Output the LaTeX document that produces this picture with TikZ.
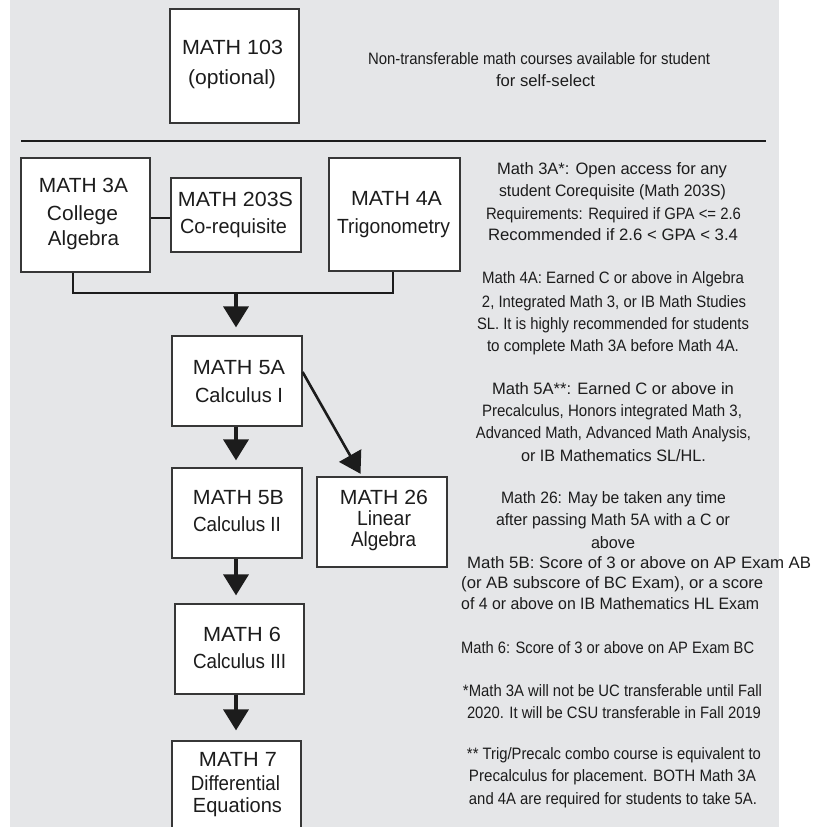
\documentclass[tikz,border=0pt]{standalone}
\usepackage{fontspec}
\setmainfont{Liberation Sans}
\usetikzlibrary{arrows.meta}
\newcommand\fw[2]{\resizebox{#1pt}{\height}{#2}}
\definecolor{bggray}{RGB}{229,230,232}
\definecolor{ink}{RGB}{28,28,28}
\definecolor{edge}{RGB}{55,55,55}
\tikzset{
  course/.style={draw=edge, line width=1.2pt, fill=white, inner sep=0pt},
  btxt/.style={anchor=base, inner sep=0pt, text=ink, font=\fontsize{20.5}{24}\selectfont},
  ntxt/.style={anchor=base, inner sep=0pt, text=ink, font=\fontsize{16.5}{20}\selectfont},
  nleft/.style={ntxt, anchor=base west},
  link/.style={draw=ink, line width=2.8pt, line join=miter},
  flow/.style={draw=ink, line width=3.5pt, -{Triangle[width=25pt,length=21pt]}},
  diag/.style={draw=ink, line width=2.6pt, -{Triangle[width=25pt,length=21pt]}},
}
\begin{document}
\begin{tikzpicture}[x=1pt,y=-1pt]
\useasboundingbox (0,0) rectangle (828,827);
\fill[bggray] (10,0) rectangle (779,827);

% separator
\draw[ink, line width=2pt] (21,141) -- (766,141);

% course boxes
\node[course, minimum width=129pt, minimum height=114pt] (m103) at (234.5,66) {};
\node[course, minimum width=129pt, minimum height=114pt] (m3a) at (85.5,215) {};
\node[course, minimum width=130pt, minimum height=74pt] (m203) at (236,215) {};
\node[course, minimum width=131pt, minimum height=113pt] (m4a) at (394.5,214.5) {};
\node[course, minimum width=130pt, minimum height=90pt] (m5a) at (237,381) {};
\node[course, minimum width=130pt, minimum height=90pt] (m5b) at (237,513) {};
\node[course, minimum width=130pt, minimum height=90pt] (m26) at (382,522) {};
\node[course, minimum width=129pt, minimum height=90pt] (m6) at (239.5,649) {};
\node[course, minimum width=129pt, minimum height=139pt] (m7) at (236.5,810.5) {};

% box texts
\node[btxt] (m103a) at (232.5,54.5) {\fw{101}{MATH 103}};
\node[btxt] (m103b) at (232,84.5) {\fw{88}{(optional)}};
\node[btxt] (m3aa) at (83.5,192.5) {\fw{89}{MATH 3A}};
\node[btxt] (m3ab) at (82.5,220.5) {\fw{71}{College}};
\node[btxt] (m3ac) at (83.5,245.5) {\fw{71}{Algebra}};
\node[btxt] (m203a) at (235.5,206.5) {\fw{115}{MATH 203S}};
\node[btxt] (m203b) at (233.5,233.5) {\fw{107}{Co-requisite}};
\node[btxt] (m4aa) at (396.5,205.5) {\fw{91}{MATH 4A}};
\node[btxt] (m4ab) at (393.5,233.5) {\fw{113}{Trigonometry}};
\node[btxt] (m5aa) at (239,374.5) {\fw{92}{MATH 5A}};
\node[btxt] (m5ab) at (239,402.5) {\fw{88}{Calculus I}};
\node[btxt] (m5ba) at (238.5,504.5) {\fw{91}{MATH 5B}};
\node[btxt] (m5bb) at (237,531.5) {\fw{88}{Calculus II}};
\node[btxt] (m26a) at (384,504) {\fw{88}{MATH 26}};
\node[btxt] (m26b) at (384,525) {\fw{54}{Linear}};
\node[btxt] (m26c) at (383.5,546) {\fw{65}{Algebra}};
\node[btxt] (m6a) at (242,641.5) {\fw{78}{MATH 6}};
\node[btxt] (m6b) at (239.5,668.5) {\fw{93}{Calculus III}};
\node[btxt] (m7a) at (238,766.5) {\fw{78}{MATH 7}};
\node[btxt] (m7b) at (235.5,790.5) {\fw{89}{Differential}};
\node[btxt] (m7c) at (237.5,812.5) {\fw{89}{Equations}};

% connectors
\coordinate (cy) at (160,218);
\draw[link] (m3a.east |- cy) -- (m203.west |- cy);
\coordinate (bl) at (73,293);
\coordinate (br) at (393,293);
\coordinate (bm) at (236,293);
\draw[link] (m3a.south -| bl) -- (bl) -- (br) -- (m4a.south -| br);
\draw[flow, shorten >=8pt] (bm) -- (m5a.north -| bm);
\draw[flow, shorten >=7pt] (m5a.south -| bm) -- (m5b.north -| bm);
\draw[flow, shorten >=8pt] (m5b.south -| bm) -- (m6.north -| bm);
\draw[flow, shorten >=10pt] (m6.south -| bm) -- (m7.north -| bm);
\coordinate (d1) at (303,372);
\coordinate (d2) at (362,474);
\draw[diag, shorten >=3pt] (m5a.east |- d1) -- (m26.north -| d2);

% notes
\node[ntxt] (n0a) at (539,64) {\fw{342}{Non-transferable math courses available for student}};
\node[ntxt] (n0b) at (545.5,86) {\fw{99}{for self-select}};

\node[ntxt] (n1) at (612,174) {\fw{230}{Math 3A*: Open access for any}};
\node[ntxt] (n2) at (612.5,196) {\fw{227}{student Corequisite (Math 203S)}};
\node[ntxt] (n3) at (613.5,219) {\fw{255}{Requirements: Required if GPA <= 2.6}};
\node[ntxt] (n4) at (613,240) {\fw{250}{Recommended if 2.6 < GPA < 3.4}};

\node[ntxt] (n5) at (613,283) {\fw{262}{Math 4A: Earned C or above in Algebra}};
\node[ntxt] (n6) at (614,307) {\fw{264}{2, Integrated Math 3, or IB Math Studies}};
\node[ntxt] (n7) at (613,329) {\fw{272}{SL. It is highly recommended for students}};
\node[ntxt] (n8) at (613,351) {\fw{252}{to complete Math 3A before Math 4A.}};

\node[ntxt] (n9) at (613,394) {\fw{242}{Math 5A**: Earned C or above in}};
\node[ntxt] (n10) at (612,416) {\fw{260}{Precalculus, Honors integrated Math 3,}};
\node[ntxt] (n11) at (613.5,438) {\fw{275}{Advanced Math, Advanced Math Analysis,}};
\node[ntxt] (n12) at (613.5,461) {\fw{185}{or IB Mathematics SL/HL.}};

\node[ntxt] (n13) at (613.5,503) {\fw{225}{Math 26: May be taken any time}};
\node[ntxt] (n14) at (613,525) {\fw{234}{after passing Math 5A with a C or}};
\node[ntxt] (n15) at (613,548) {\fw{44}{above}};

\node[nleft] (n16) at (467,568) {\fw{344}{Math 5B: Score of 3 or above on AP Exam AB}};
\node[nleft] (n17) at (461,588) {\fw{302}{(or AB subscore of BC Exam), or a score}};
\node[nleft] (n18) at (461,609) {\fw{298}{of 4 or above on IB Mathematics HL Exam}};

\node[nleft] (n19) at (461,653) {\fw{293}{Math 6: Score of 3 or above on AP Exam BC}};

\node[ntxt] (n20) at (612.5,696) {\fw{299}{*Math 3A will not be UC transferable until Fall}};
\node[ntxt] (n21) at (614,718) {\fw{294}{2020. It will be CSU transferable in Fall 2019}};

\node[ntxt] (n22) at (614,759) {\fw{294}{** Trig/Precalc combo course is equivalent to}};
\node[ntxt] (n23) at (612.5,781) {\fw{287}{Precalculus for placement. BOTH Math 3A}};
\node[ntxt] (n24) at (613,804) {\fw{288}{and 4A are required for students to take 5A.}};
\end{tikzpicture}
\end{document}
